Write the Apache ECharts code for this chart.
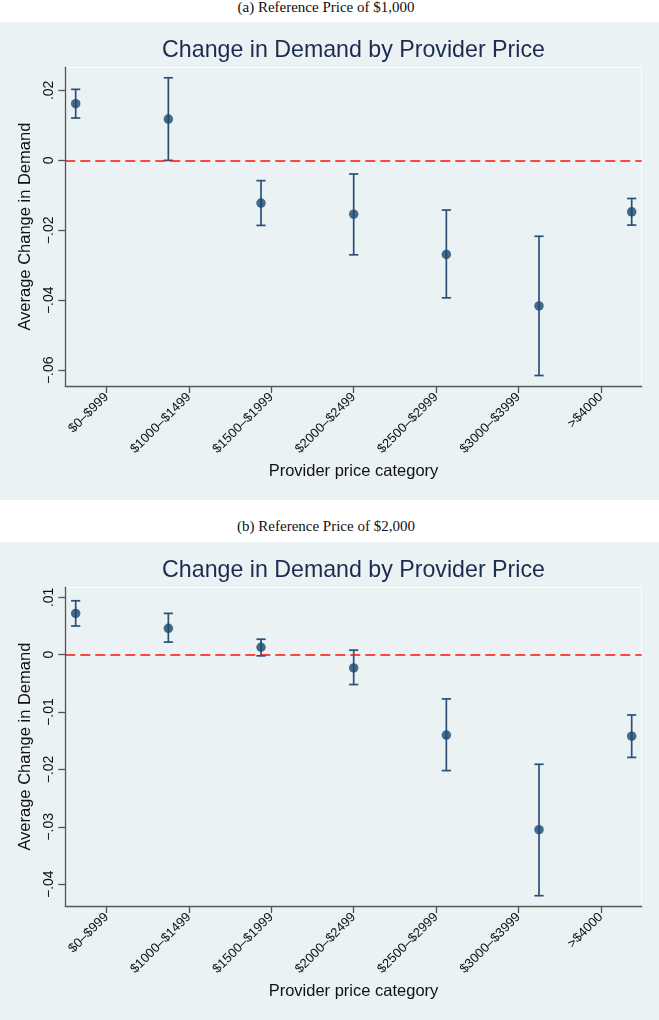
<!DOCTYPE html>
<html>
<head>
<meta charset="utf-8">
<script src="https://cdn.jsdelivr.net/npm/echarts@6/dist/echarts.min.js"></script>
<style>
  body { margin: 0; background: #fff; width: 659px; height: 1020px; position: relative; overflow: hidden; }
  .caption { position: absolute; left: 0; width: 652px; text-align: center; font-family: "Liberation Serif", serif; font-size: 15px; color: #111; }
  .panel { position: absolute; left: 0; width: 659px; background: #eaf2f3; }
  .panel > div { width: 659px; height: 100%; }
</style>
</head>
<body>
<div class="caption" style="top:-1px">(a) Reference Price of $1,000</div>
<div class="panel" style="top:22px;height:478px"><div id="chart-a"></div></div>
<div class="caption" style="top:518px">(b) Reference Price of $2,000</div>
<div class="panel" style="top:542px;height:478px"><div id="chart-b"></div></div>
<script>
// x categories (Stata relabels 7 ticks; the points sit at 1..7)
const categories = ['$0–$999', '$1000–$1499', '$1500–$1999', '$2000–$2499', '$2500–$2999', '$3000–$3999', '>$4000']
const pointX = [1, 2, 3, 4, 5, 6, 7]
const tickX = [1.333, 2.222, 3.111, 4, 4.889, 5.778, 6.667]

// (a) reference price $1,000
const estA = [0.0162, 0.0118, -0.0122, -0.0154, -0.0269, -0.0416, -0.0147]
const loA = [0.0121, 0.0000, -0.0186, -0.0270, -0.0393, -0.0615, -0.0185]
const hiA = [0.0203, 0.0236, -0.0058, -0.0039, -0.0142, -0.0217, -0.0109]
const yTicksA = [-0.06, -0.04, -0.02, 0, 0.02]
const yLabelsA = ['−.06', '−.04', '−.02', '0', '.02']

// (b) reference price $2,000
const estB = [0.0072, 0.0046, 0.0013, -0.0023, -0.0140, -0.0305, -0.0142]
const loB = [0.0050, 0.0022, -0.0002, -0.0052, -0.0202, -0.0420, -0.0179]
const hiB = [0.0094, 0.0072, 0.0027, 0.0008, -0.0077, -0.0191, -0.0105]
const yTicksB = [-0.04, -0.03, -0.02, -0.01, 0, 0.01]
const yLabelsB = ['−.04', '−.03', '−.02', '−.01', '0', '.01']

const axisColor = '#4f5458'
const dotColor = '#1a476f'
const barColor = '#2a5079'

function makeOption (est, lo, hi, yTicks, yLabels, yMin, yMax) {
  return {
    animation: false,
    textStyle: { fontFamily: 'Liberation Sans, Arial, sans-serif' },
    title: {
      text: 'Change in Demand by Provider Price',
      left: 353.5,
      textAlign: 'center',
      top: 17,
      padding: 0,
      textStyle: { fontSize: 23.2, fontWeight: 'normal', color: '#1c2b4f' }
    },
    grid: {
      left: 65.3,
      right: 17.3,
      top: 45.3,
      bottom: 114,
      show: true,
      borderColor: '#ffffff',
      borderWidth: 1,
      backgroundColor: 'transparent'
    },
    xAxis: {
      type: 'value',
      min: 0.888,
      max: 7.108,
      name: 'Provider price category',
      nameLocation: 'middle',
      nameGap: 76,
      nameTextStyle: { fontSize: 16.5, color: '#111' },
      splitLine: { show: false },
      axisLine: { onZero: false, lineStyle: { color: axisColor, width: 1.3 } },
      axisTick: { length: 7, lineStyle: { color: axisColor, width: 1.3 }, customValues: tickX },
      axisLabel: {
        customValues: tickX,
        rotate: 45,
        margin: 9,
        fontSize: 13,
        color: '#111',
        formatter: v => categories[tickX.indexOf(v)]
      }
    },
    yAxis: {
      type: 'value',
      min: yMin,
      max: yMax,
      name: 'Average Change in Demand',
      nameLocation: 'middle',
      nameRotate: 90,
      nameGap: 31,
      nameTextStyle: { fontSize: 16.5, color: '#111' },
      splitLine: { show: false },
      axisLine: { show: true, onZero: false, lineStyle: { color: axisColor, width: 1.3 } },
      axisTick: { show: true, length: 7, lineStyle: { color: axisColor, width: 1.3 }, customValues: yTicks },
      axisLabel: {
        customValues: yTicks,
        rotate: 90,
        margin: 9,
        fontSize: 14,
        color: '#111',
        formatter: v => yLabels[yTicks.indexOf(v)]
      }
    },
    series: [
      {
        type: 'custom',
        z: 3,
        data: pointX.map((x, i) => [x, lo[i], hi[i]]),
        renderItem: (params, api) => {
          const x = api.value(0)
          const pLo = api.coord([x, api.value(1)])
          const pHi = api.coord([x, api.value(2)])
          const half = 4.6
          const style = { stroke: barColor, lineWidth: 1.7 }
          return {
            type: 'group',
            children: [
              { type: 'line', shape: { x1: pLo[0], y1: pLo[1], x2: pHi[0], y2: pHi[1] }, style },
              { type: 'line', shape: { x1: pLo[0] - half, y1: pLo[1], x2: pLo[0] + half, y2: pLo[1] }, style },
              { type: 'line', shape: { x1: pHi[0] - half, y1: pHi[1], x2: pHi[0] + half, y2: pHi[1] }, style }
            ]
          }
        }
      },
      {
        type: 'scatter',
        z: 4,
        symbol: 'circle',
        symbolSize: 9.5,
        itemStyle: { color: dotColor },
        data: pointX.map((x, i) => [x, est[i]]),
        markLine: {
          silent: true,
          symbol: 'none',
          label: { show: false },
          lineStyle: { color: '#ff1010', width: 1.6, type: [10, 5] },
          data: [{ yAxis: 0 }]
        }
      }
    ]
  }
}

const chartA = echarts.init(document.getElementById('chart-a'))
chartA.setOption(makeOption(estA, loA, hiA, yTicksA, yLabelsA, -0.0645, 0.0266))
const chartB = echarts.init(document.getElementById('chart-b'))
chartB.setOption(makeOption(estB, loB, hiB, yTicksB, yLabelsB, -0.0438, 0.01175))
</script>
</body>
</html>
